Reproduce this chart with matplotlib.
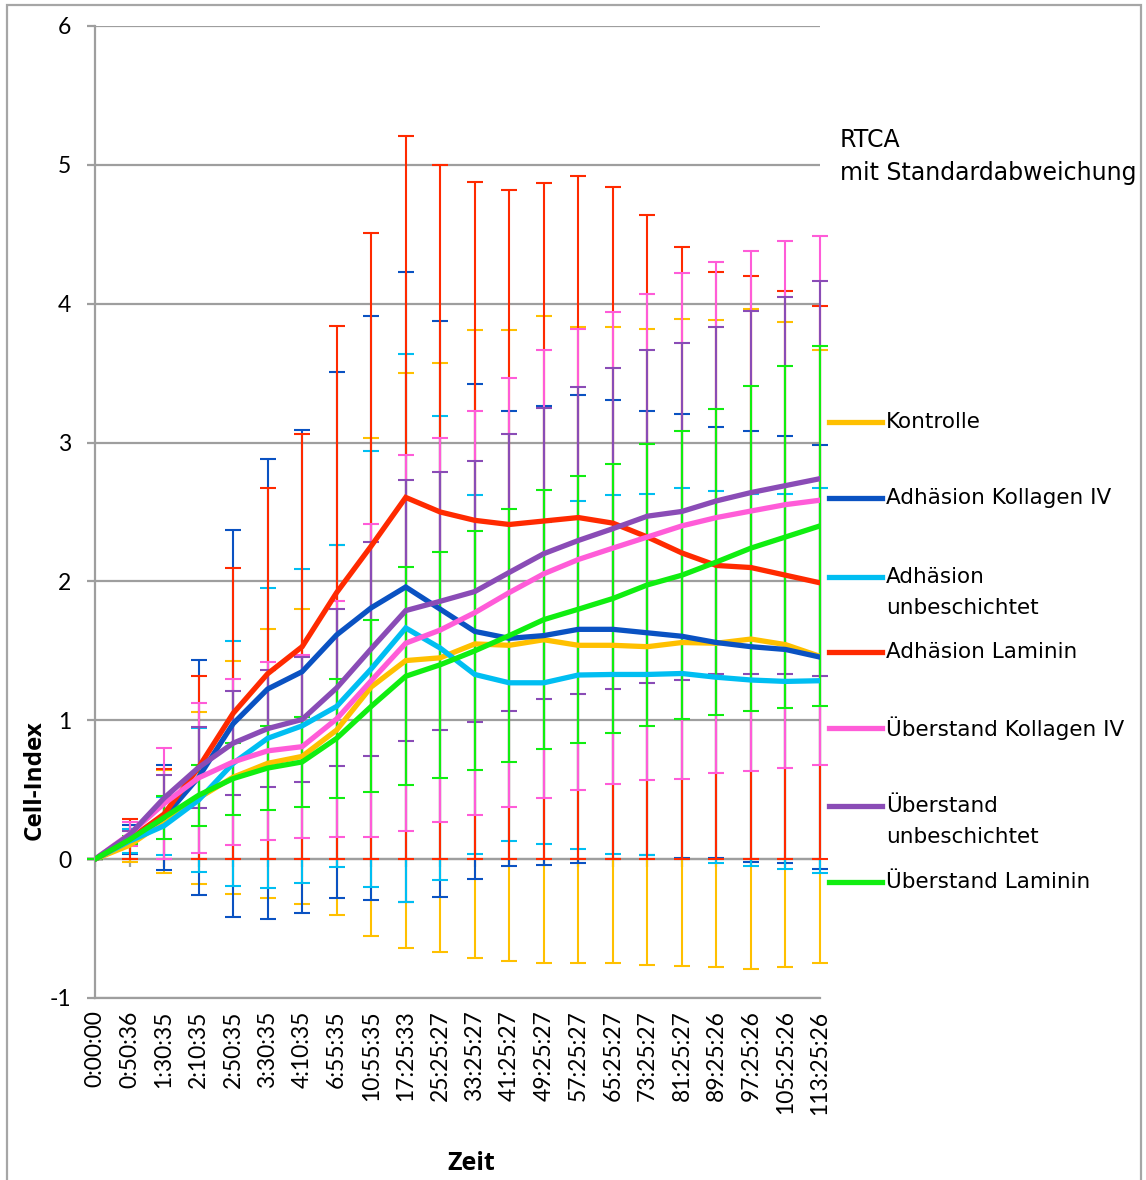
import matplotlib
matplotlib.use("Agg")
import matplotlib.pyplot as plt
from matplotlib.lines import Line2D
from matplotlib.patches import Rectangle

plt.rcParams["axes.unicode_minus"] = False

# Time points of the RTCA measurement (h:mm:ss)
zeit = ["0:00:00", "0:50:36", "1:30:35", "2:10:35", "2:50:35", "3:30:35",
        "4:10:35", "6:55:35", "10:55:35", "17:25:33", "25:25:27", "33:25:27",
        "41:25:27", "49:25:27", "57:25:27", "65:25:27", "73:25:27", "81:25:27",
        "89:25:26", "97:25:26", "105:25:26", "113:25:26"]

# Mean cell index and standard deviation per group
kontrolle = [0, 0.10, 0.27, 0.44, 0.59, 0.69, 0.74, 0.93, 1.24, 1.43, 1.45,
             1.55, 1.54, 1.58, 1.54, 1.54, 1.53, 1.56, 1.555, 1.585, 1.545, 1.46]
kontrolle_sd = [0, 0.12, 0.37, 0.62, 0.84, 0.97, 1.06, 1.33, 1.79, 2.07, 2.12,
                2.26, 2.27, 2.33, 2.29, 2.29, 2.29, 2.33, 2.33, 2.375, 2.325, 2.21]

adh_kollagen = [0, 0.14, 0.30, 0.59, 0.975, 1.225, 1.35, 1.615, 1.81, 1.96, 1.80,
                1.64, 1.59, 1.61, 1.655, 1.655, 1.63, 1.605, 1.56, 1.53, 1.51, 1.455]
adh_kollagen_sd = [0, 0.106, 0.375, 0.845, 1.395, 1.655, 1.74, 1.895, 2.105, 2.27, 2.075,
                   1.78, 1.64, 1.65, 1.685, 1.655, 1.60, 1.60, 1.55, 1.55, 1.54, 1.525]

adh_unbeschichtet = [0, 0.13, 0.24, 0.425, 0.69, 0.87, 0.96, 1.10, 1.37, 1.665, 1.52,
                     1.33, 1.27, 1.27, 1.326, 1.33, 1.33, 1.337, 1.31, 1.29, 1.28, 1.285]
adh_unbeschichtet_sd = [0, 0.085, 0.21, 0.52, 0.88, 1.08, 1.13, 1.16, 1.57, 1.975, 1.67,
                        1.29, 1.14, 1.16, 1.254, 1.29, 1.30, 1.333, 1.34, 1.337, 1.35, 1.385]

adh_laminin = [0, 0.143, 0.325, 0.66, 1.05, 1.335, 1.53, 1.92, 2.255, 2.605, 2.50,
               2.44, 2.41, 2.435, 2.46, 2.42, 2.32, 2.205, 2.115, 2.10, 2.045, 1.99]
adh_laminin_sd = [0, 0.143, 0.325, 0.66, 1.05, 1.335, 1.53, 1.92, 2.255, 2.605, 2.50,
                  2.44, 2.41, 2.435, 2.46, 2.42, 2.32, 2.205, 2.115, 2.10, 2.045, 1.99]

ueb_kollagen = [0, 0.18, 0.40, 0.585, 0.70, 0.78, 0.81, 1.01, 1.285, 1.555, 1.65,
                1.775, 1.92, 2.055, 2.158, 2.24, 2.32, 2.40, 2.46, 2.507, 2.553, 2.585]
ueb_kollagen_sd = [0, 0.087, 0.40, 0.54, 0.60, 0.64, 0.66, 0.85, 1.125, 1.355, 1.38,
                   1.455, 1.545, 1.615, 1.66, 1.70, 1.75, 1.82, 1.84, 1.87, 1.90, 1.905]

ueb_unbeschichtet = [0, 0.175, 0.44, 0.66, 0.835, 0.94, 1.006, 1.233, 1.515, 1.79, 1.857,
                     1.927, 2.065, 2.20, 2.295, 2.38, 2.47, 2.504, 2.58, 2.64, 2.69, 2.74]
ueb_unbeschichtet_sd = [0, 0.03, 0.165, 0.29, 0.375, 0.42, 0.45, 0.565, 0.77, 0.94, 0.93,
                        0.94, 1.0, 1.05, 1.105, 1.155, 1.20, 1.216, 1.25, 1.31, 1.36, 1.42]

ueb_laminin = [0, 0.14, 0.30, 0.46, 0.58, 0.656, 0.70, 0.87, 1.10, 1.317, 1.40,
               1.50, 1.61, 1.725, 1.80, 1.877, 1.975, 2.045, 2.14, 2.24, 2.32, 2.40]
ueb_laminin_sd = [0, 0.03, 0.155, 0.22, 0.26, 0.30, 0.325, 0.43, 0.62, 0.785, 0.815,
                  0.86, 0.91, 0.935, 0.96, 0.97, 1.015, 1.035, 1.10, 1.17, 1.23, 1.295]

series_names = ["Kontrolle", "Adhäsion Kollagen IV", "Adhäsion\nunbeschichtet",
                "Adhäsion Laminin", "Überstand Kollagen IV", "Überstand\nunbeschichtet",
                "Überstand Laminin"]
series_means = [kontrolle, adh_kollagen, adh_unbeschichtet, adh_laminin,
                ueb_kollagen, ueb_unbeschichtet, ueb_laminin]
series_sds = [kontrolle_sd, adh_kollagen_sd, adh_unbeschichtet_sd, adh_laminin_sd,
              ueb_kollagen_sd, ueb_unbeschichtet_sd, ueb_laminin_sd]
series_colors = ["#FFC000", "#0A52C2", "#00BEF2", "#FF2A00",
                 "#FF5CD8", "#8A4CB6", "#10EE10"]

W, H = 1146, 1180
fig = plt.figure(figsize=(W / 100, H / 100), dpi=100)
fig.patch.set_facecolor("white")

# outer frame around the chart
fig.add_artist(Rectangle((7 / W, -0.05), (1141 - 7) / W, 1.05 - 5 / H,
                         transform=fig.transFigure, fill=False,
                         edgecolor="#A6A6A6", linewidth=1.6))

ax = fig.add_axes([95 / W, 1 - 998 / H, (820 - 95) / W, (998 - 26) / H])
x = list(range(len(zeit)))

grid_col = "#9E9E9E"
ax.set_xlim(0, len(zeit) - 1)
ax.set_ylim(-1, 6)
ax.set_yticks(range(-1, 7))
ax.yaxis.grid(True, color=grid_col, linewidth=1.6, zorder=0)
ax.set_axisbelow(True)
for side in ("top", "right"):
    ax.spines[side].set_visible(False)
for side in ("left", "bottom"):
    ax.spines[side].set_color(grid_col)
    ax.spines[side].set_linewidth(1.6)
ax.tick_params(axis="y", length=6, width=1.6, color=grid_col, pad=11,
               labelsize=16.5, labelcolor="black")
ax.tick_params(axis="x", length=0, pad=9, labelsize=16.5, labelcolor="black")
ax.set_xticks(x)
ax.set_xticklabels(zeit, rotation=90, va="top", ha="center")
for lab in ax.get_xticklabels() + ax.get_yticklabels():
    lab.set_fontfamily("Lato")

# category axis crossing at zero, with small tick marks
ax.axhline(0, color=grid_col, linewidth=1.6, zorder=0.5)
ax.vlines(x, -0.06, 0, color=grid_col, linewidth=1.6, zorder=0.5)

for m, s, c in zip(series_means, series_sds, series_colors):
    eb = ax.errorbar(x, m, yerr=s, fmt="none", ecolor=c, elinewidth=1.5,
                     capsize=6, capthick=1.5, zorder=2)
    for part in eb.lines[1] + eb.lines[2]:
        part.set_clip_on(False)
for m, c in zip(series_means, series_colors):
    ax.plot(x, m, color=c, linewidth=3.8, solid_joinstyle="miter", zorder=3)

fig.text(35 / W, 1 - 780 / H, "Cell-Index", rotation=90, ha="center", va="center",
         fontsize=17.5, fontweight="bold", family="Open Sans")
fig.text(471 / W, 1 - 1163 / H, "Zeit", ha="center", va="center",
         fontsize=18, fontweight="bold", family="Open Sans")

fig.text(840 / W, 1 - 140 / H, "RTCA", ha="left", va="center",
         fontsize=17, family="DejaVu Sans")
fig.text(840 / W, 1 - 173 / H, "mit Standardabweichung", ha="left", va="center",
         fontsize=17, family="DejaVu Sans")

# legend entries
legend_rows = [422, 498, 577, 652, 728, 806, 882]
for name, c, yrow in zip(series_names, series_colors, legend_rows):
    yf = 1 - yrow / H
    fig.add_artist(Line2D([829 / W, 882 / W], [yf, yf], color=c, linewidth=3.8,
                          transform=fig.transFigure))
    for k, part in enumerate(name.split("\n")):
        fig.text(886 / W, 1 - (yrow + 31 * k) / H, part, ha="left", va="center",
                 fontsize=15.5, family="DejaVu Sans")

fig.savefig("out.png", dpi=100, facecolor="white")
